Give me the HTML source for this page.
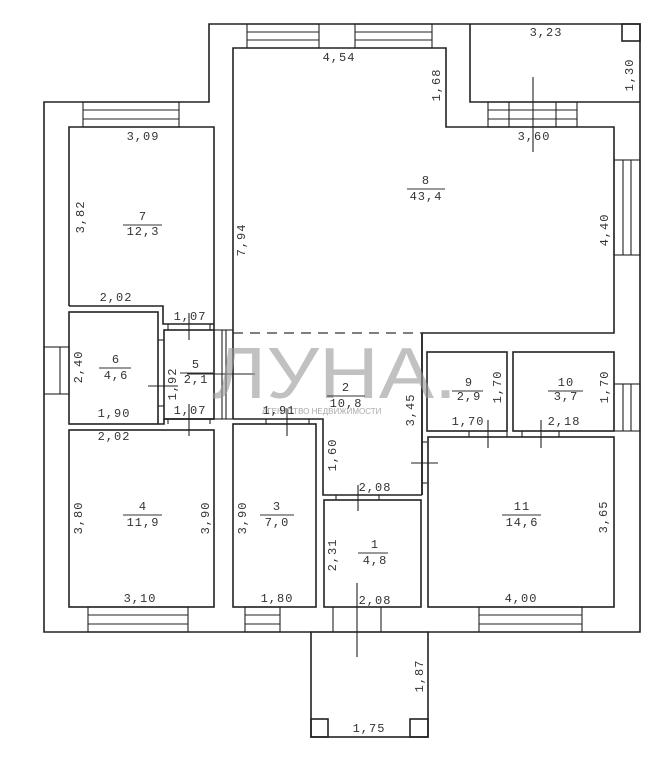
<!DOCTYPE html>
<html><head><meta charset="utf-8"><style>
html,body{margin:0;padding:0;background:#fff}
svg{display:block}
text{font-family:"Liberation Mono",monospace;font-size:12px;fill:#333;letter-spacing:1px}
</style></head><body>
<svg width="657" height="761" viewBox="0 0 657 761" xmlns="http://www.w3.org/2000/svg">
<g fill="none" stroke="#222" stroke-width="1.6">
<polyline points="311,632 44,632 44,102 209,102 209,24 640,24 640,632 428,632"/>
<rect x="311" y="632" width="117" height="105"/>
<rect x="311" y="719" width="17" height="18"/>
<rect x="410" y="719" width="18" height="18"/>
<polyline points="470,24 470,102 640,102"/>
<rect x="622" y="24" width="18" height="17"/>
<polyline points="422,495 422,333 614,333 614,127 446,127 446,48 233,48 233,330"/>
<polyline points="69,306 69,127 214,127 214,330"/>
<polyline points="69,306 163,306 163,324 214,324"/>
<rect x="69" y="312" width="89" height="112"/>
<rect x="164" y="330" width="50" height="89"/>
<line x1="233" y1="330" x2="233" y2="419"/>
<polyline points="158,424 164,424 164,419 214,419"/>
<rect x="69" y="430" width="145" height="177"/>
<rect x="233" y="424" width="83" height="183"/>
<polyline points="233,419 323,419 323,495 422,495"/>
<rect x="324" y="500" width="97" height="107"/>
<rect x="427" y="352" width="80" height="79"/>
<rect x="513" y="352" width="101" height="79"/>
<rect x="428" y="437" width="186" height="170"/>
<polyline points="422,333 422,495"/>
</g>
<g fill="none" stroke="#222" stroke-width="1.1">
<rect x="247" y="24" width="72" height="24"/><line x1="247" y1="32" x2="319" y2="32"/><line x1="247" y1="40" x2="319" y2="40"/>
<rect x="355" y="24" width="77" height="24"/><line x1="355" y1="32" x2="432" y2="32"/><line x1="355" y1="40" x2="432" y2="40"/>
<rect x="83" y="102" width="96" height="25"/><line x1="83" y1="110" x2="179" y2="110"/><line x1="83" y1="119" x2="179" y2="119"/>
<rect x="488" y="102" width="89" height="25"/><line x1="488" y1="110" x2="577" y2="110"/><line x1="488" y1="119" x2="577" y2="119"/><line x1="509" y1="102" x2="509" y2="127"/><line x1="556" y1="102" x2="556" y2="127"/>
<rect x="614" y="160" width="26" height="95"/><line x1="623" y1="160" x2="623" y2="255"/><line x1="631" y1="160" x2="631" y2="255"/>
<rect x="44" y="347" width="25" height="47"/><line x1="60" y1="347" x2="60" y2="394"/>
<rect x="214" y="330" width="19" height="89"/><line x1="222" y1="330" x2="222" y2="419"/><line x1="226" y1="330" x2="226" y2="419"/>
<rect x="614" y="384" width="26" height="47"/><line x1="623" y1="384" x2="623" y2="431"/><line x1="631" y1="384" x2="631" y2="431"/>
<rect x="88" y="607" width="100" height="25"/><line x1="88" y1="615" x2="188" y2="615"/><line x1="88" y1="624" x2="188" y2="624"/>
<rect x="245" y="607" width="35" height="25"/><line x1="245" y1="615" x2="280" y2="615"/><line x1="245" y1="624" x2="280" y2="624"/>
<rect x="479" y="607" width="103" height="25"/><line x1="479" y1="615" x2="582" y2="615"/><line x1="479" y1="624" x2="582" y2="624"/>
<line x1="333" y1="607" x2="333" y2="632"/><line x1="381" y1="607" x2="381" y2="632"/>
<line x1="168" y1="324" x2="168" y2="330"/><line x1="210" y1="324" x2="210" y2="330"/>
<line x1="168" y1="419" x2="168" y2="424"/><line x1="210" y1="419" x2="210" y2="424"/>
<line x1="158" y1="340" x2="164" y2="340"/><line x1="158" y1="406" x2="164" y2="406"/>
<line x1="266" y1="419" x2="266" y2="424"/><line x1="309" y1="419" x2="309" y2="424"/>
<line x1="336" y1="495" x2="336" y2="500"/><line x1="379" y1="495" x2="379" y2="500"/>
<line x1="422" y1="442" x2="427" y2="442"/><line x1="422" y1="483" x2="427" y2="483"/>
<line x1="469" y1="431" x2="469" y2="437"/><line x1="507" y1="431" x2="507" y2="437"/>
<line x1="522" y1="431" x2="522" y2="437"/><line x1="559" y1="431" x2="559" y2="437"/>
<line x1="533" y1="77" x2="533" y2="152"/>
<line x1="189" y1="313" x2="189" y2="340"/>
<line x1="189" y1="404" x2="189" y2="436"/>
<line x1="148" y1="386" x2="178" y2="386"/>
<line x1="187" y1="374" x2="255" y2="374"/>
<line x1="287" y1="408" x2="287" y2="436"/>
<line x1="358" y1="485" x2="358" y2="511"/>
<line x1="357" y1="583" x2="357" y2="657"/>
<line x1="411" y1="463" x2="438" y2="463"/>
<line x1="488" y1="420" x2="488" y2="448"/>
<line x1="541" y1="420" x2="541" y2="448"/>
</g>
<line x1="233" y1="333" x2="422" y2="333" stroke="#333" stroke-width="1.2" stroke-dasharray="10,7"/>
<text x="212" y="398" textLength="245" lengthAdjust="spacingAndGlyphs" style="font-family:'Liberation Sans',sans-serif;font-size:72px;fill:#999;opacity:0.6;letter-spacing:0">ЛУНА.</text>
<text x="262" y="414" style="font-family:'Liberation Sans',sans-serif;font-size:8px;fill:#aaa;letter-spacing:0">АГЕНТСТВО НЕДВИЖИМОСТИ</text>
<g text-anchor="middle">
<text x="339" y="61">4,54</text>
<text x="546" y="36">3,23</text>
<text x="534" y="140">3,60</text>
<text x="143" y="140">3,09</text>
<text x="116" y="301">2,02</text>
<text x="190" y="320">1,07</text>
<text x="190" y="414">1,07</text>
<text x="114" y="417">1,90</text>
<text x="114" y="440">2,02</text>
<text x="279" y="414">1,91</text>
<text x="375" y="491">2,08</text>
<text x="375" y="604">2,08</text>
<text x="140" y="602">3,10</text>
<text x="277" y="602">1,80</text>
<text x="521" y="602">4,00</text>
<text x="369" y="732">1,75</text>
<text x="468" y="425">1,70</text>
<text x="564" y="425">2,18</text>
<text x="143" y="220">7</text><text x="143" y="235">12,3</text>
<text x="426" y="184">8</text><text x="426" y="200">43,4</text>
<text x="116" y="363">6</text><text x="116" y="379">4,6</text>
<text x="196" y="368">5</text><text x="196" y="383">2,1</text>
<text x="346" y="391">2</text><text x="346" y="407">10,8</text>
<text x="469" y="386">9</text><text x="469" y="400">2,9</text>
<text x="566" y="386">10</text><text x="566" y="400">3,7</text>
<text x="143" y="510">4</text><text x="143" y="526">11,9</text>
<text x="277" y="510">3</text><text x="277" y="526">7,0</text>
<text x="375" y="548">1</text><text x="375" y="564">4,8</text>
<text x="522" y="510">11</text><text x="522" y="526">14,6</text>
</g>
<g stroke="#333" stroke-width="1">
<line x1="123" y1="225" x2="162" y2="225"/>
<line x1="407" y1="189" x2="445" y2="189"/>
<line x1="99" y1="368" x2="131" y2="368"/>
<line x1="180" y1="373" x2="213" y2="373"/>
<line x1="327" y1="396" x2="365" y2="396"/>
<line x1="452" y1="391" x2="483" y2="391"/>
<line x1="548" y1="391" x2="583" y2="391"/>
<line x1="123" y1="515" x2="162" y2="515"/>
<line x1="260" y1="515" x2="294" y2="515"/>
<line x1="358" y1="553" x2="388" y2="553"/>
<line x1="502" y1="515" x2="541" y2="515"/>
</g>
<g text-anchor="middle">
<text transform="translate(84,217) rotate(-90)">3,82</text>
<text transform="translate(245,240) rotate(-90)">7,94</text>
<text transform="translate(440,85) rotate(-90)">1,68</text>
<text transform="translate(633,75) rotate(-90)">1,30</text>
<text transform="translate(608,230) rotate(-90)">4,40</text>
<text transform="translate(82,367) rotate(-90)">2,40</text>
<text transform="translate(176,384) rotate(-90)">1,92</text>
<text transform="translate(414,410) rotate(-90)">3,45</text>
<text transform="translate(336,455) rotate(-90)">1,60</text>
<text transform="translate(501,387) rotate(-90)">1,70</text>
<text transform="translate(608,387) rotate(-90)">1,70</text>
<text transform="translate(82,518) rotate(-90)">3,80</text>
<text transform="translate(209,518) rotate(-90)">3,90</text>
<text transform="translate(246,518) rotate(-90)">3,90</text>
<text transform="translate(336,555) rotate(-90)">2,31</text>
<text transform="translate(607,517) rotate(-90)">3,65</text>
<text transform="translate(423,676) rotate(-90)">1,87</text>
</g>
</svg>
</body></html>
